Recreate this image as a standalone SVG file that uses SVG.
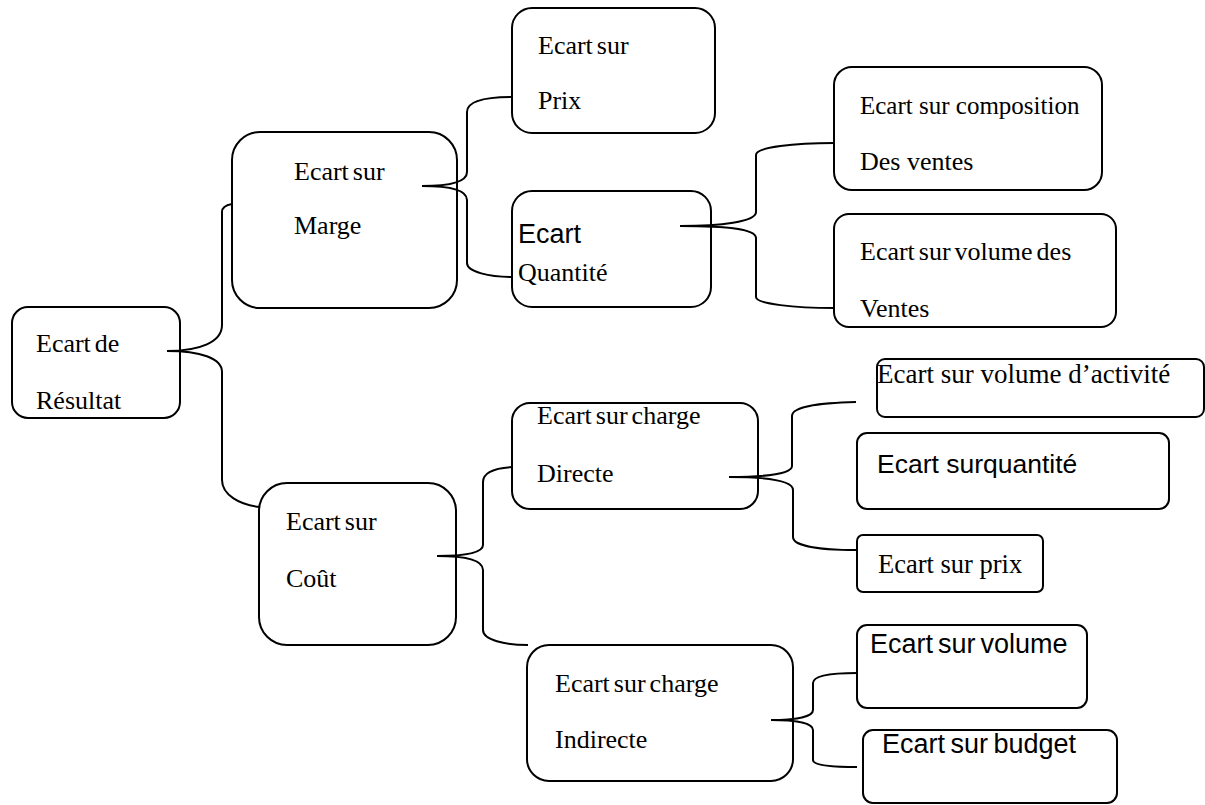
<svg xmlns="http://www.w3.org/2000/svg" width="1205" height="805" viewBox="0 0 1205 805">
<style>
rect{fill:#fff;stroke:#000;stroke-width:2}
.c path{fill:none;stroke:#000;stroke-width:2}
.t{font-family:"Liberation Serif","Times New Roman",serif;font-size:26px;fill:#000}
.a{font-family:"Liberation Sans",Arial,sans-serif;font-size:27px;fill:#000}
.tight{word-spacing:-2.5px}
</style>
<rect x="0" y="0" width="1205" height="805" style="stroke:none"/>
<g id="n1"><rect x="12" y="307" width="168" height="111" rx="16"/><text class="t tight" x="36" y="352">Ecart de</text><text class="t" x="36" y="409">Résultat</text></g>
<g id="n2"><rect x="232" y="132" width="225" height="176" rx="28"/><text class="t tight" x="294" y="180">Ecart sur</text><text class="t" x="294" y="234">Marge</text></g>
<g id="n3"><rect x="512" y="8" width="203" height="125" rx="20"/><text class="t tight" x="538" y="54">Ecart sur</text><text class="t" x="538" y="109">Prix</text></g>
<g id="n4"><rect x="512" y="191" width="199" height="116" rx="20"/><text class="a" x="518" y="243">Ecart</text><text class="t" x="518" y="281">Quantité</text></g>
<g id="n5"><rect x="834" y="67" width="268" height="123" rx="18"/><text class="t" style="font-size:25px" x="860" y="114">Ecart sur composition</text><text class="t" x="860" y="170">Des ventes</text></g>
<g id="n6"><rect x="834" y="214" width="282" height="113" rx="15"/><text class="t tight" x="860" y="260">Ecart sur volume des</text><text class="t" x="860" y="317">Ventes</text></g>
<g id="n7"><rect x="259" y="483" width="197" height="162" rx="28"/><text class="t tight" x="286" y="530">Ecart sur</text><text class="t" x="286" y="587">Coût</text></g>
<g id="n8"><rect x="512" y="403" width="246" height="106" rx="18"/><text class="t tight" x="537" y="424">Ecart sur charge</text><text class="t" x="537" y="482">Directe</text></g>
<g id="n9"><rect x="877" y="359" width="327" height="58" rx="8"/><text class="t" style="font-size:27px" x="877" y="383">Ecart sur volume d’activité</text></g>
<g id="n10"><rect x="857" y="433" width="312" height="76" rx="10"/><text class="a" style="font-size:26.5px" x="877" y="473">Ecart sur<tspan dx="-7.4"> quantité</tspan></text></g>
<g id="n11"><rect x="857" y="535" width="186" height="57" rx="6"/><text class="t" style="font-size:26.5px" x="878" y="573">Ecart sur prix</text></g>
<g id="n12"><rect x="527" y="645" width="266" height="136" rx="22"/><text class="t tight" x="555" y="692">Ecart sur charge</text><text class="t" x="555" y="748">Indirecte</text></g>
<g id="n13"><rect x="857" y="625" width="230" height="83" rx="10"/><text class="a" style="word-spacing:-2.5px" x="870" y="653">Ecart sur volume</text></g>
<g id="n14"><rect x="863" y="730" width="254" height="73" rx="10"/><text class="a" style="word-spacing:-2px" x="882" y="753">Ecart sur budget</text></g>
<g class="c" id="connectors">
<path d="M167,351 C200,351 222,342 222,325 L222,212 C222,207 226,205 232,204"/>
<path d="M167,351 C200,351 222,358 222,372 L222,480 C222,495 240,505 260,507"/>
<path d="M422,186 C450,186 467,182 467,172 L467,112 C467,100 490,97 512,97"/>
<path d="M422,186 C450,186 467,190 467,200 L467,263 C467,272 490,277 512,277"/>
<path d="M680,226 C720,226 756,222 756,212 L756,155 C756,147 795,143 834,143"/>
<path d="M680,226 C720,226 756,228 756,238 L756,297 C756,304 795,308 834,308"/>
<path d="M437,556 C465,556 483,553 483,545 L483,482 C483,472 495,468 512,467"/>
<path d="M437,556 C465,556 483,560 483,570 L483,630 C483,640 505,645 528,645"/>
<path d="M729,477 C765,477 792,474 792,466 L792,416 C792,406 820,403 856,402"/>
<path d="M729,477 C765,477 793,480 793,490 L793,537 C793,546 820,550 856,550"/>
<path d="M771,720 C795,720 813,717 813,710 L813,683 C813,676 830,673 857,673"/>
<path d="M771,720 C795,720 813,723 813,730 L813,760 C813,765 830,767 857,767"/>
</g>
</svg>
